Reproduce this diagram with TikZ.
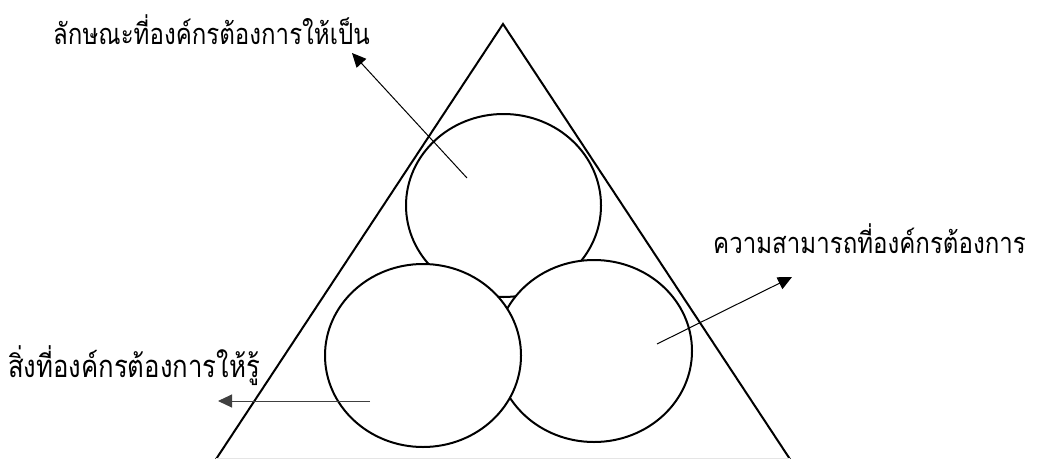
\documentclass[tikz,border=0pt]{standalone}
\usepackage{fontspec}
\newfontfamily\thaifont[Script=Thai,FakeStretch=0.83]{Loma}
\usetikzlibrary{arrows.meta}
\begin{document}
\begin{tikzpicture}[x=1pt,y=-1pt,
  outline/.style={line width=2pt,draw=black},
  bubble/.style={line width=2pt,draw=black,fill=white},
  pointer/.style={line width=1pt,draw=black,-{Triangle[length=14pt,width=13pt]}},
  label/.style={font=\thaifont\fontsize{29}{34}\selectfont,anchor=base west,inner sep=0pt}]
\useasboundingbox (0,0) rectangle (1051,458);
\begin{scope}
\clip (0,0) rectangle (1051,458);
\coordinate (apex) at (503,24);
\coordinate (bl) at (216,459.2);
\coordinate (br) at (790,459.2);
\draw[outline,line join=miter] (bl) -- (apex) -- (br);
\draw[line width=2pt,draw=black!10] (bl) -- (br);
\end{scope}
\draw[bubble] (503.5,205.5) ellipse [x radius=97.5, y radius=91.5];
\draw[bubble] (594,351) ellipse [x radius=98, y radius=91];
\draw[bubble] (423,355.5) ellipse [x radius=98, y radius=91.5];
\coordinate (c1) at (467,178);
\coordinate (c2) at (657,344);
\coordinate (c3) at (370,401);
\node[label,anchor=base east] (t1) at (370,44) {ลักษณะที่องค์กรต้องการให้เป็น};
\node[label] (t2) at (713,253) {ความสามารถที่องค์กรต้องการ};
\node[label,font=\thaifont\fontsize{31}{35}\selectfont] (t3) at (8,377) {สิ่งที่องค์กรต้องการให้รู้};
\coordinate (e1) at (352,53);
\coordinate (e2) at (792,277);
\coordinate (e3) at (218,401);
\draw[pointer] (c1) -- (e1);
\draw[pointer] (c2) -- (e2);
\draw[pointer,draw=black!75] (c3) -- (e3);
\end{tikzpicture}
\end{document}
